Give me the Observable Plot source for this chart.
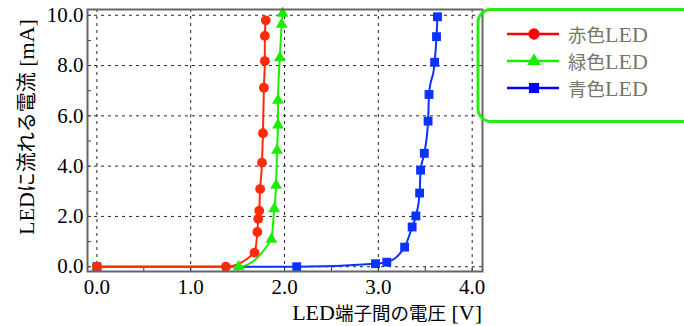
<!DOCTYPE html>
<html>
<head>
<meta charset="utf-8">
<script src="https://cdn.jsdelivr.net/npm/d3@7"></script>
<script src="https://cdn.jsdelivr.net/npm/@observablehq/plot@0.6"></script>
<style>
  html, body { margin: 0; padding: 0; background: #fff; }
  #chart { position: relative; width: 684px; height: 326px; }
</style>
</head>
<body>
<div id="chart"></div>
<script>
// Series values (voltage V, current mA)
const redV   = [0.0, 1.375, 1.68, 1.71, 1.72, 1.73, 1.74, 1.76, 1.77, 1.78, 1.79, 1.79, 1.80];
const redI   = [0.0, 0.0,   0.56, 1.38, 1.91, 2.23, 3.09, 4.14, 5.31, 7.12, 8.18, 9.18, 9.80];
const greenV = [0.0, 1.51, 1.86, 1.89, 1.91, 1.92, 1.93, 1.93, 1.95, 1.97, 1.98];
const greenI = [0.0, 0.0,  1.09, 2.30, 3.24, 4.63, 5.63, 6.62, 8.31, 9.64, 10.08];
const blueV  = [0.0, 2.13, 2.97, 3.09, 3.28, 3.36, 3.40, 3.44, 3.45, 3.49, 3.53, 3.54, 3.60, 3.62, 3.63];
const blueI  = [0.0, 0.0,  0.12, 0.18, 0.78, 1.58, 2.02, 2.93, 3.84, 4.51, 5.79, 6.85, 8.13, 9.15, 9.94];

const seriesNames = ["赤色LED", "緑色LED", "青色LED"];
const seriesColors = ["#ff2a0a", "#18ee00", "#0a33ff"];
const legendColors = ["#ff0000", "#18ee00", "#0000ff"];
const seriesSymbols = ["circle", "triangle", "square"];
const seriesR = [4.9, 4.4, 5.0];

const xTicks = [0, 1, 2, 3, 4];
const yTicks = [0, 2, 4, 6, 8, 10];
const xMinor = [0.5, 1.5, 2.5, 3.5];
const yMinor = [1, 3, 5, 7, 9];

const xLabel = "LED端子間の電圧 [V]";
const yLabel = "LEDに流れる電流 [mA]";

const toRows = (vs, is, k) => vs.map((v, i) => ({v, i: is[i], k}));
const series = [toRows(redV, redI, 0), toRows(greenV, greenI, 1), toRows(blueV, blueI, 2)];

const latinFont = "'Liberation Serif', 'Times New Roman', serif";
const cjkFont = "'Noto Sans CJK JP', sans-serif";

const marks = [
  Plot.gridX(xTicks, {stroke: "#000", strokeOpacity: 0.85, strokeDasharray: "3,4", strokeWidth: 1}),
  Plot.gridY(yTicks, {stroke: "#000", strokeOpacity: 0.85, strokeDasharray: "3,4", strokeWidth: 1}),
  Plot.axisX({ticks: xTicks, tickSize: 0, tickPadding: 8, tickFormat: d => d.toFixed(1), label: null, fontSize: 21}),
  Plot.axisY({ticks: yTicks, tickSize: 0, tickPadding: 4, tickFormat: d => d.toFixed(1), label: null, fontSize: 21}),
  Plot.axisX({ticks: xTicks.concat(xMinor), tickSize: -4, tickFormat: () => "", label: null, stroke: "#333"}),
  Plot.axisY({ticks: yMinor.concat(yTicks), tickSize: -4, tickFormat: () => "", label: null, stroke: "#333"})
];
[2, 1, 0].forEach(k => {
  marks.push(Plot.line(series[k], {x: "v", y: "i", stroke: seriesColors[k], strokeWidth: 2, curve: "monotone-x", clip: true}));
});
[2, 1, 0].forEach(k => {
  marks.push(Plot.dot(series[k], {x: "v", y: "i", fill: seriesColors[k], symbol: seriesSymbols[k], r: seriesR[k], stroke: "none"}));
});
marks.push(Plot.frame({stroke: "#666", strokeWidth: 2}));

const chart = Plot.plot({
  width: 684,
  height: 326,
  marginLeft: 87,
  marginRight: 202,
  marginTop: 9,
  marginBottom: 55,
  style: {fontFamily: latinFont, fontSize: "21px", color: "#000", background: "#fff"},
  x: {domain: [-0.1, 4.11]},
  y: {domain: [-0.19, 10.23]},
  marks
});

// Split mixed text into Latin (serif) and CJK runs
const cjkRe = /[\u3000-\u30ff\u3400-\u9fff\uff00-\uffef]/;
function fillRuns(textSel, str, cjkSize, latinSize) {
  textSel.text(null);
  const runs = [];
  for (const ch of str) {
    const c = cjkRe.test(ch);
    if (runs.length && runs[runs.length - 1].c === c) runs[runs.length - 1].s += ch;
    else runs.push({c, s: ch});
  }
  runs.forEach(r => {
    const t = textSel.append("tspan").text(r.s).style("font-family", r.c ? cjkFont : latinFont);
    if (cjkSize && r.c) t.style("font-size", cjkSize + "px");
    if (latinSize && !r.c) t.style("font-size", latinSize + "px");
  });
}

const svg = d3.select(chart);
const xr = chart.scale("x").range;   // [left, right] of plot frame
const yr = chart.scale("y").range;   // [bottom, top]

// Axis titles
const xt = svg.append("text")
  .attr("x", xr[1]).attr("y", yr[0] + 49)
  .attr("fill", "#000").style("text-anchor", "end");
fillRuns(xt, xLabel, 18.5, 22);

const yt = svg.append("text")
  .attr("transform", `translate(${xr[0] - 53},${(yr[0] + yr[1]) / 2 - 13}) rotate(-90)`)
  .attr("fill", "#000").style("text-anchor", "middle");
fillRuns(yt, yLabel, 20, 22);

// Legend drawn into the SVG
const lg = svg.append("g").attr("text-anchor", "start");
lg.append("rect")
  .attr("x", 478).attr("y", 9.5).attr("width", 240).attr("height", 112)
  .attr("rx", 13).attr("fill", "none")
  .attr("stroke", "#22ee11").attr("stroke-width", 3);
const sym = {circle: d3.symbolCircle, triangle: d3.symbolTriangle, square: d3.symbolSquare};
seriesNames.forEach((name, k) => {
  const y = 34 + k * 27;
  lg.append("line").attr("x1", 507).attr("x2", 559).attr("y1", y).attr("y2", y)
    .attr("stroke", legendColors[k]).attr("stroke-width", 2.5);
  const r = seriesR[k] * 1.15;
  lg.append("path").attr("d", d3.symbol(sym[seriesSymbols[k]], Math.PI * r * r)())
    .attr("transform", `translate(534,${y})`).attr("fill", legendColors[k]);
  const t = lg.append("text").attr("x", 568).attr("y", y + 8)
    .attr("fill", "#7b7665")
    .style("text-anchor", "start");
  fillRuns(t, name, 18.5, 22);
});

document.getElementById("chart").appendChild(chart);
</script>
</body>
</html>
